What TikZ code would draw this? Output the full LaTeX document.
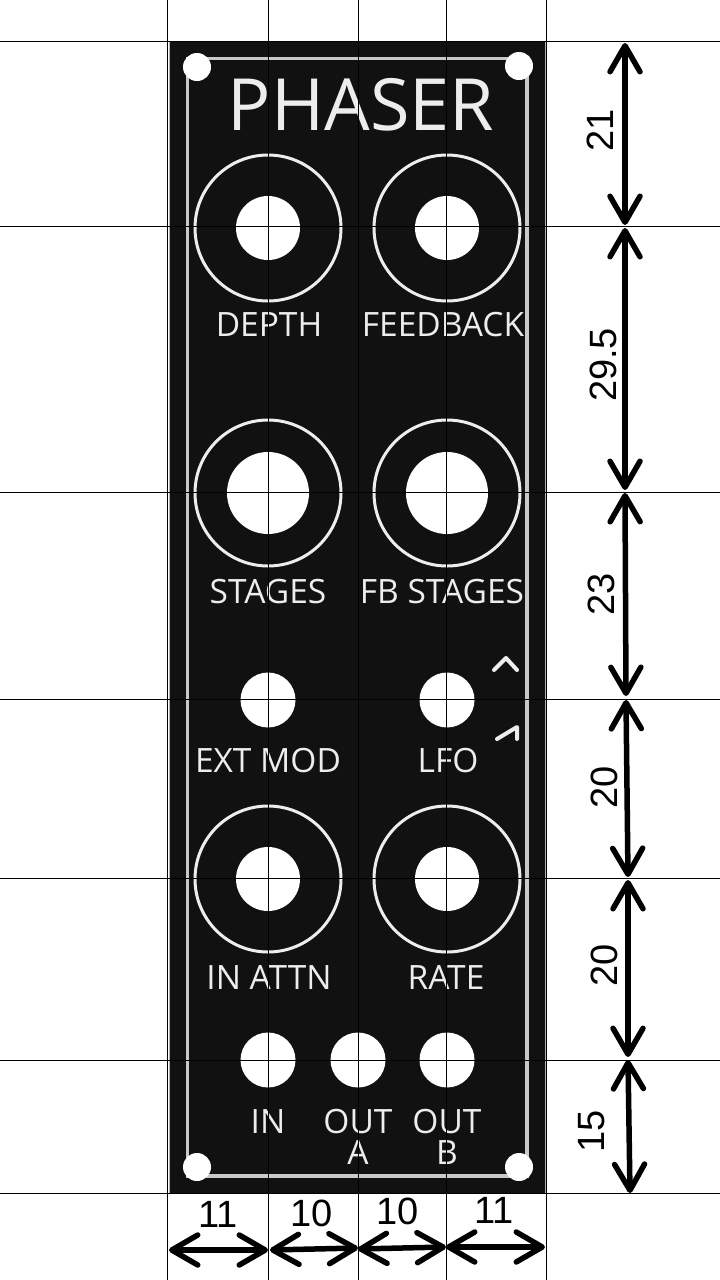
\documentclass[tikz,border=0pt]{standalone}
\usepackage{fontspec}
\setmainfont{Liberation Sans}
\newfontfamily\panelfont{Open Sans}
\usetikzlibrary{arrows.meta}
\definecolor{panelblack}{HTML}{111111}
\definecolor{panelwhite}{HTML}{EDEDED}
\begin{document}
\begin{tikzpicture}[
        x=1pt, y=-1pt,
        ring/.style = {circle, draw=panelwhite, line width=3pt, inner sep=0pt, minimum size=146pt},
        hole/.style = {circle, fill=white, inner sep=0pt, minimum size=#1},
        paneltext/.style = {font=\panelfont\fontsize{33.5}{33.5}\selectfont, text=panelwhite, inner sep=0pt, anchor=base},
        dimtext/.style = {font=\fontsize{38}{38}\selectfont, inner sep=0pt},
        dim/.style = {line width=5.5pt, {Straight Barb[length=26pt,width=30pt,round]}-{Straight Barb[length=26pt,width=30pt,round]}},
        grid/.style = {black, line width=1pt}
    ]
        \useasboundingbox (0,0) rectangle (720,1280);
        % panel
        \fill[panelblack, draw=black!30, line width=1pt] (169,41.5) rectangle (545.5,1193);
        \draw[panelwhite!85!black, line width=3.5pt] (187.5,58.5) rectangle (527,1176);
        \node[hole=28pt] (screwa) at (197,67) {};
        \node[hole=28pt] (screwb) at (519,66) {};
        \node[hole=28pt] (screwc) at (197,1167) {};
        \node[hole=28pt] (screwd) at (519,1167) {};
        \node[paneltext, font=\panelfont\fontsize{72}{72}\selectfont] (title) at (361,130) {PHASER};
        % knobs
        \node[ring] (depthring) at (268,228) {};
        \node[hole=64pt] (depth) at (268,228) {};
        \node[ring] (feedbackring) at (447,228) {};
        \node[hole=64pt] (feedback) at (447,228) {};
        \node[ring] (stagesring) at (268,493) {};
        \node[hole=82pt] (stages) at (268,493) {};
        \node[ring] (fbstagesring) at (447,493) {};
        \node[hole=82pt] (fbstages) at (447,493) {};
        \node[ring] (inattnring) at (268,879) {};
        \node[hole=64pt] (inattn) at (268,879) {};
        \node[ring] (ratering) at (447,879) {};
        \node[hole=64pt] (rate) at (447,879) {};
        % jacks
        \node[hole=55pt] (extmod) at (268,700) {};
        \node[hole=55pt] (lfo) at (447,700) {};
        \node[hole=55pt] (in) at (268,1060) {};
        \node[hole=55pt] (outa) at (358,1060) {};
        \node[hole=55pt] (outb) at (447,1060) {};
        % labels
        \node[paneltext] (depthlabel) at (269,336) {DEPTH};
        \node[paneltext] (feedbacklabel) at (443,336) {FEEDBACK};
        \node[paneltext] (stageslabel) at (268,603) {STAGES};
        \node[paneltext] (fbstageslabel) at (442,603) {FB STAGES};
        \node[paneltext] (extmodlabel) at (268,772) {EXT MOD};
        \node[paneltext] (lfolabel) at (448,772) {LFO};
        \node[paneltext] (inattnlabel) at (269,989) {IN ATTN};
        \node[paneltext] (ratelabel) at (446,989) {RATE};
        \node[paneltext] (inlabel) at (268,1133) {IN};
        \node[paneltext] (outalabel) at (358,1133) {OUT};
        \node[paneltext] (alabel) at (358,1164) {A};
        \node[paneltext] (outblabel) at (447,1133) {OUT};
        \node[paneltext] (blabel) at (447,1164) {B};
        % waveform marks
        \draw[panelwhite, line width=4pt, line cap=round, line join=round] (494,670) -- (506,658) -- (517,670);
        \draw[panelwhite, line width=4pt, line cap=round, line join=round] (497,739) -- (517,727) -- (517,739);
        % grid lines
        \foreach \gx in {167.5,268,358.5,446.5,546}
            \draw[grid] (\gx,0) -- (\gx,1280);
        \foreach \gy in {41.5,226,492,699,878,1060,1193}
            \draw[grid] (0,\gy) -- (720,\gy);
        % dimensions on the right
        \coordinate (ra) at (625,43);
        \coordinate (rb) at (625,225);
        \coordinate (rc) at (625,228);
        \coordinate (rd) at (625,490);
        \coordinate (re) at (625,493);
        \coordinate (rf) at (626,696);
        \coordinate (rg) at (626,700);
        \coordinate (rh) at (628,877);
        \coordinate (ri) at (628,880);
        \coordinate (rj) at (628,1057);
        \coordinate (rk) at (628,1060);
        \coordinate (rl) at (630,1193);
        \draw[dim] (ra) -- (rb);
        \draw[dim] (rc) -- (rd);
        \draw[dim] (re) -- (rf);
        \draw[dim] (rg) -- (rh);
        \draw[dim] (ri) -- (rj);
        \draw[dim] (rk) -- (rl);
        \node[dimtext, rotate=90] (dimtop) at (600,130) {21};
        \node[dimtext, rotate=90] (dimknob) at (603,365) {29.5};
        \node[dimtext, rotate=90] (dimstages) at (601,594) {23};
        \node[dimtext, rotate=90] (dimlfo) at (604,787) {20};
        \node[dimtext, rotate=90] (dimattn) at (604,965) {20};
        \node[dimtext, rotate=90] (dimjack) at (592,1131) {15};
        % dimensions below
        \coordinate (ba) at (169,1250);
        \coordinate (bb) at (268,1250);
        \coordinate (bc) at (270,1250);
        \coordinate (bd) at (358,1248);
        \coordinate (be) at (358,1249);
        \coordinate (bf) at (446,1247);
        \coordinate (bg) at (446,1247);
        \coordinate (bh) at (545,1247);
        \draw[dim] (ba) -- (bb);
        \draw[dim] (bc) -- (bd);
        \draw[dim] (be) -- (bf);
        \draw[dim] (bg) -- (bh);
        \node[dimtext] (dima) at (218,1214) {11};
        \node[dimtext] (dimb) at (312,1213) {10};
        \node[dimtext] (dimc) at (398,1211) {10};
        \node[dimtext] (dimd) at (494,1210) {11};
    \end{tikzpicture}
\end{document}
